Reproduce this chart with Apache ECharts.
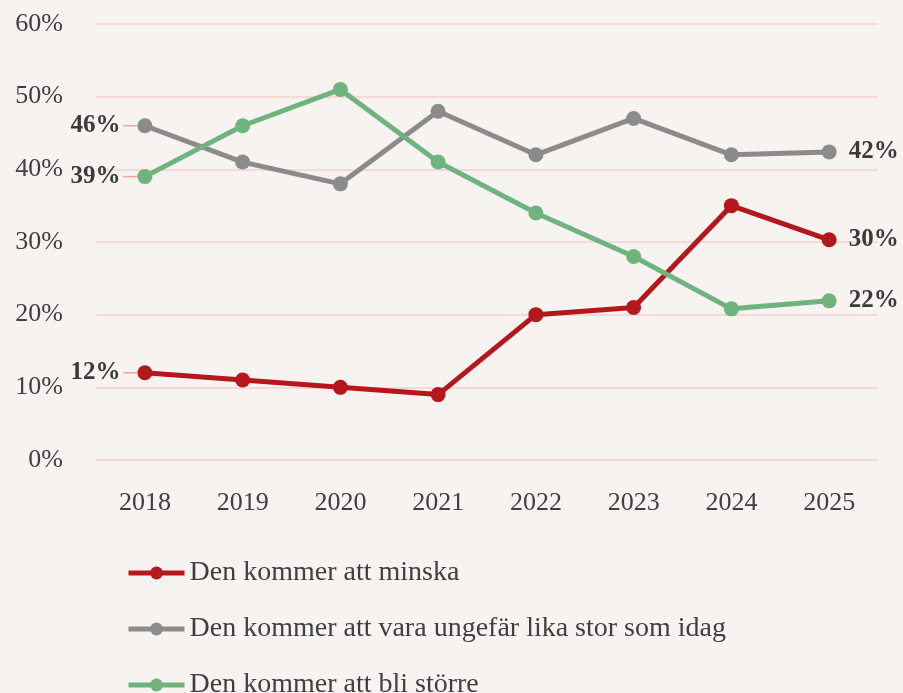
<!DOCTYPE html>
<html><head><meta charset="utf-8">
<script src="https://cdn.jsdelivr.net/npm/echarts@6/dist/echarts.min.js"></script>
<style>html,body{margin:0;padding:0;background:#f7f3f0;}#c{width:903px;height:693px;}</style>
</head><body><div id="c"></div>
<script>
const years = ['2018','2019','2020','2021','2022','2023','2024','2025'];
const seriesNames = ['Den kommer att minska','Den kommer att vara ungefär lika stor som idag','Den kommer att bli större'];
const minska = [12, 11, 10, 9, 20, 21, 35, 30.3];
const likaStor = [46, 41, 38, 48, 42, 47, 42, 42.4];
const storre = [39, 46, 51, 41, 34, 28, 20.8, 21.9];
const yTicks = [0, 10, 20, 30, 40, 50, 60];

const FONT = '"Liberation Serif", "DejaVu Serif", serif';
const colors = ['#b4181d', '#8b8b8b', '#6fb47f'];

const labelText = { fontFamily: FONT, fontSize: 25, fontWeight: 'bold', color: '#3a3a3a' };

function mk(name, data, color) {
  return {
    name, type: 'line', color,
    data: data.map((v, i) => i === 0 ? {
      value: v,
      label: {
        position: 'left', distance: 0,
        formatter: p => '{t|' + Math.round(p.value) + '%}{g|}{l|}',
        rich: {
          t: labelText,
          g: { width: 3, height: 2 },
          l: { width: 14, height: 1.5, backgroundColor: '#f2a3a3', verticalAlign: 'middle' }
        }
      }
    } : v),
    symbol: 'circle', symbolSize: 15,
    lineStyle: { width: 5, color },
    itemStyle: { color },
    label: Object.assign({
      show: true,
      formatter: p => (p.dataIndex === data.length - 1) ? Math.round(p.value) + '%' : '',
      position: 'right', distance: 12
    }, labelText),
    emphasis: { disabled: true },
    animation: false
  };
}

const s = [mk(seriesNames[0], minska, colors[0]), mk(seriesNames[1], likaStor, colors[1]), mk(seriesNames[2], storre, colors[2])];

const legendTops = [559, 615, 671];
const legends = seriesNames.map((n, i) => ({
  orient: 'vertical', left: 126, top: legendTops[i], padding: 0,
  itemWidth: 56, itemHeight: 16,
  lineStyle: { width: 5 },
  textStyle: { fontFamily: FONT, fontSize: 28, color: '#404040' },
  data: [n]
}));

const chart = echarts.init(document.getElementById('c'));
chart.setOption({
  backgroundColor: '#f7f3f0',
  animation: false,
  grid: { left: 96, right: 25, top: 24, bottom: 233, containLabel: false },
  xAxis: {
    type: 'category', data: years, boundaryGap: true,
    axisLine: { show: false }, axisTick: { show: false },
    axisLabel: { fontFamily: FONT, fontSize: 26, color: '#404040', margin: 30 }
  },
  yAxis: {
    type: 'value', min: yTicks[0], max: yTicks[yTicks.length - 1], interval: 10,
    axisLine: { show: false }, axisTick: { show: false },
    splitLine: { lineStyle: { color: '#f6cfcf', width: 1.5 } },
    axisLabel: { fontFamily: FONT, fontSize: 26, color: '#404040', margin: 33, formatter: v => v + '%' }
  },
  legend: legends,
  series: s
});
</script></body></html>
